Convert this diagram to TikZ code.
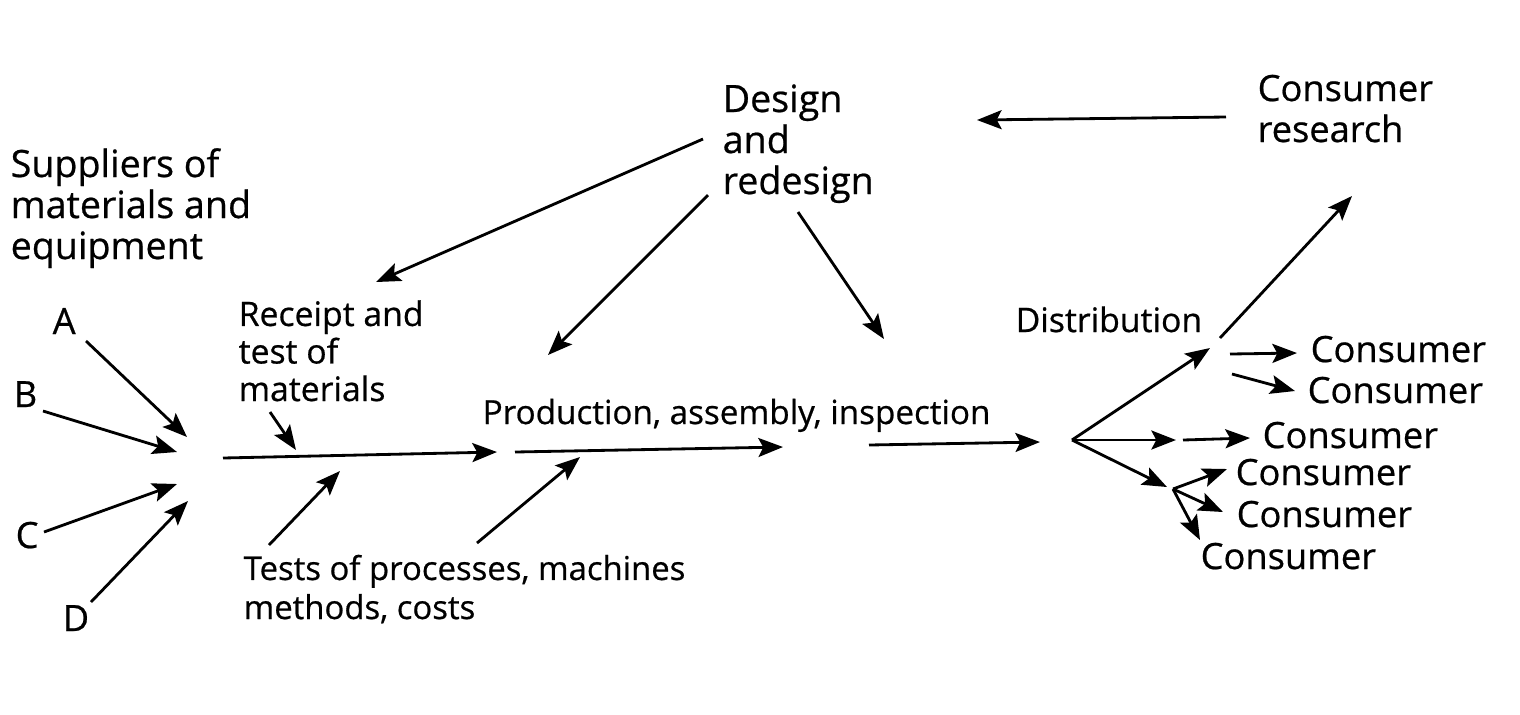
\documentclass[tikz,border=0pt]{standalone}
\usepackage{fontspec}
\setmainfont{Open Sans}[BoldFont={Open Sans}, BoldFeatures={FakeBold=0.6}]
\usetikzlibrary{arrows.meta}
\begin{document}
\begin{tikzpicture}[x=0.01cm,y=-0.01cm,
  lbl/.style={inner sep=0pt, anchor=base west, align=left, font=\fontsize{10.3}{11.66}\selectfont\bfseries},
  big/.style={lbl, font=\fontsize{10.7}{11.66}\selectfont\bfseries},
  small/.style={lbl, font=\fontsize{9.6}{10.67}\selectfont\bfseries},
  mid/.style={lbl, font=\fontsize{9.45}{11.1}\selectfont\bfseries},
  arr/.style={line width=0.8pt, -{Stealth[length=7pt,width=5.4pt,inset=1.4pt]}}]
\useasboundingbox (0,0) rectangle (1520,714);
% text nodes (multi-line nodes are placed by the baseline of their last line)
\node[big] (sup) at (10,259) {Suppliers of\\materials and\\equipment};
\node[lbl] (A) at (52,334) {A};
\node[lbl] (B) at (13,407) {B};
\node[lbl] (C) at (15,548) {C};
\node[lbl] (D) at (62,631) {D};
\node[small] (rec) at (238,401) {Receipt and\\test of\\materials};
\node[lbl, font=\fontsize{9.35}{11.1}\selectfont\bfseries] (tests) at (243,619) {Tests of processes, machines\\methods, costs};
\node[mid] (prod) at (482,424) {Production, assembly, inspection};
\node[big] (des) at (722,194) {Design\\and\\redesign};
\node[lbl] (res) at (1257,142) {Consumer\\research};
\node[lbl, font=\fontsize{9.6}{11.1}\selectfont\bfseries] (dist) at (1015,332) {Distribution};
\node[lbl] (c1) at (1310,362) {Consumer};
\node[lbl] (c2) at (1307,403) {Consumer};
\node[lbl] (c3) at (1262,448) {Consumer};
\node[lbl] (c4) at (1235,485) {Consumer};
\node[lbl] (c5) at (1236,527) {Consumer};
\node[lbl] (c6) at (1200,569) {Consumer};
% coordinates
\coordinate (a0) at (86,341);  \coordinate (a1) at (187,437);
\coordinate (b0) at (43,411);  \coordinate (b1) at (177,452);
\coordinate (cc0) at (44,532); \coordinate (cc1) at (177,484);
\coordinate (d0) at (91,602);  \coordinate (d1) at (188,501);
\coordinate (m0) at (223,458); \coordinate (m1) at (497,452);
\coordinate (r0) at (270,412); \coordinate (r1) at (296,450);
\coordinate (t0) at (269,545); \coordinate (t1) at (340,471);
\coordinate (p0) at (515,452); \coordinate (p1) at (783,447);
\coordinate (u0) at (477,543); \coordinate (u1) at (580,457);
\coordinate (q0) at (869,445); \coordinate (q1) at (1040,442);
\coordinate (e0) at (703,139); \coordinate (e1) at (376,282);
\coordinate (f0) at (708,195); \coordinate (f1) at (548,355);
\coordinate (g0) at (798,212); \coordinate (g1) at (884,339);
\coordinate (h0) at (1226,117); \coordinate (h1) at (977,120);
\coordinate (hub) at (1072,440);
\coordinate (k1) at (1210,348);
\coordinate (k2) at (1176,440);
\coordinate (k3) at (1167,487);
\coordinate (l0) at (1220,338); \coordinate (l1) at (1352,196);
\coordinate (n0) at (1230,354); \coordinate (n1) at (1297,353);
\coordinate (o0) at (1232,374); \coordinate (o1) at (1295,391);
\coordinate (s0) at (1183,440); \coordinate (s1) at (1250,438);
\coordinate (hub2) at (1173,489);
\coordinate (v1) at (1227,469);
\coordinate (v2) at (1223,512);
\coordinate (v3) at (1200,540);
% arrows
\draw[arr] (a0) -- (a1);
\draw[arr] (b0) -- (b1);
\draw[arr] (cc0) -- (cc1);
\draw[arr] (d0) -- (d1);
\draw[arr] (m0) -- (m1);
\draw[arr] (r0) -- (r1);
\draw[arr] (t0) -- (t1);
\draw[arr] (p0) -- (p1);
\draw[arr] (u0) -- (u1);
\draw[arr] (q0) -- (q1);
\draw[arr] (e0) -- (e1);
\draw[arr] (f0) -- (f1);
\draw[arr] (g0) -- (g1);
\draw[arr] (h0) -- (h1);
\draw[arr] (hub) -- (k1);
\draw[arr] (hub) -- (k2);
\draw[arr] (hub) -- (k3);
\draw[arr] (l0) -- (l1);
\draw[arr] (n0) -- (n1);
\draw[arr] (o0) -- (o1);
\draw[arr] (s0) -- (s1);
\draw[arr] (hub2) -- (v1);
\draw[arr] (hub2) -- (v2);
\draw[arr] (hub2) -- (v3);
\end{tikzpicture}
\end{document}
